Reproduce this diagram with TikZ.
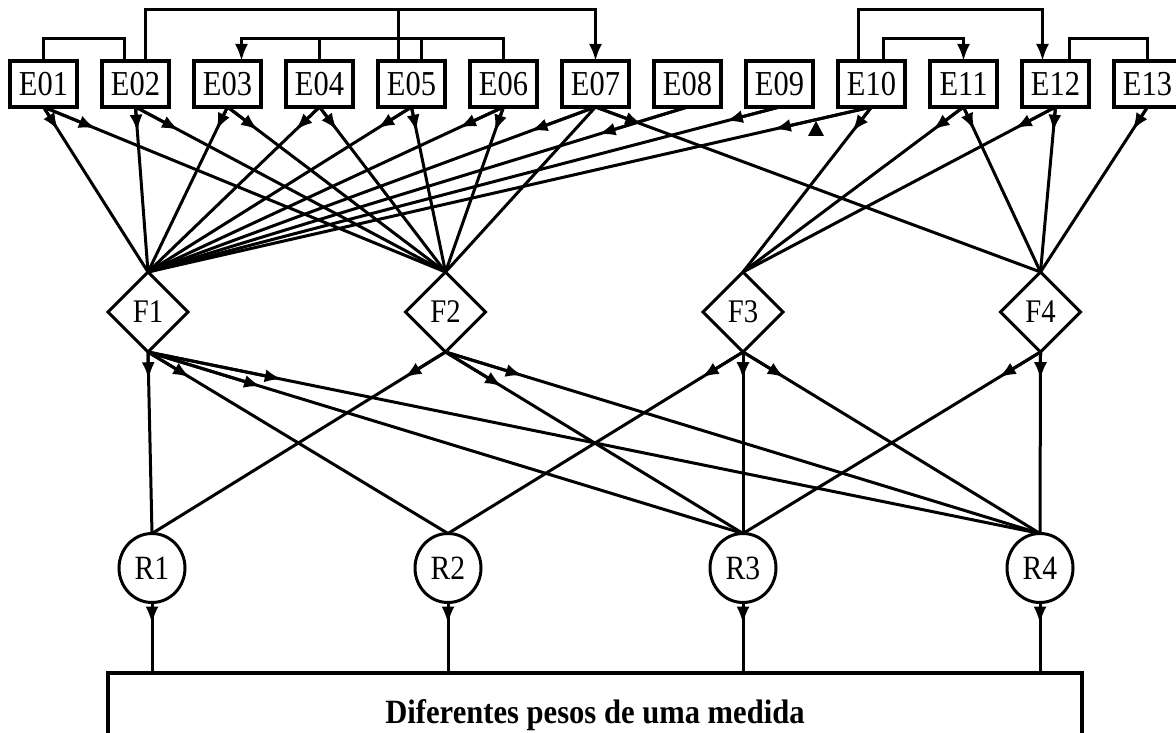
\documentclass[tikz,border=0pt]{standalone}
\usepackage{fontspec}
\setmainfont{Liberation Serif}
\newfontfamily\labfont[FakeStretch=0.87]{Liberation Serif}
\newfontfamily\bottomfont[FakeStretch=0.9]{Liberation Serif}
\usetikzlibrary{shapes.geometric,arrows.meta,calc}
\begin{document}
\begin{tikzpicture}[x=1pt,y=-1pt,
  ln/.style={line width=3pt},
  tip/.style={ln,-{Latex[length=17pt,width=13pt]}},
  ebox/.style={draw,line width=3.2pt,minimum width=67pt,minimum height=46pt,inner sep=0pt,outer sep=0pt,font=\labfont\fontsize{35pt}{35pt}\selectfont},
  fdia/.style={draw,diamond,aspect=1,line width=3pt,minimum width=80pt,minimum height=80pt,inner sep=0pt,outer sep=0pt,font=\labfont\fontsize{33pt}{33pt}\selectfont},
  rcirc/.style={draw,ellipse,line width=3pt,minimum width=66pt,minimum height=69pt,inner sep=0pt,outer sep=0pt,font=\labfont\fontsize{34pt}{34pt}\selectfont},
  bigbox/.style={minimum width=974pt,minimum height=60pt,inner sep=0pt,outer sep=0pt},
  bigtext/.style={inner sep=0pt,font=\bottomfont\bfseries\fontsize{34pt}{34pt}\selectfont}
]
\useasboundingbox (0,0) rectangle (1176,733);

% E boxes
\foreach \i/\n in {1/E01,2/E02,3/E03,4/E04,5/E05,6/E06,7/E07,8/E08,9/E09,10/E10,11/E11,12/E12,13/E13}{
  \node[ebox] (\n) at ({43.5+92*(\i-1)},84) {\n};
}
% F diamonds
\foreach \i in {1,2,3,4}{
  \node[fdia] (F\i) at ({148+297.5*(\i-1)},312) {F\i};
}
% R circles
\node[rcirc] (R1) at (152,568) {R1};
\node[rcirc] (R2) at (448,568) {R2};
\node[rcirc] (R3) at (743,568) {R3};
\node[rcirc] (R4) at (1040,568) {R4};
% bottom box
\node[bigbox] (B) at (595,703) {};
\node[bigtext] (BT) at (595,715) {Diferentes pesos de uma medida};
\draw[line width=3.2pt] (B.south west) -- (B.north west) -- (B.north east) -- (B.south east);

% bus levels
\coordinate (busA) at (0,10);
\coordinate (busB) at (0,39);

% top connectors
\draw[ln] (E01.north) -- (E01.north |- busB) -| ([xshift=-11pt]E02.north);
\draw[tip] ([xshift=10pt]E02.north) -- ([xshift=10pt]E02.north |- busA) -| (E07.north);
\draw[ln] ([xshift=-13.5pt]E05.north) -- ([xshift=-13.5pt]E05.north |- busA);
\draw[tip] (E06.north) -- (E06.north |- busB) -| ([xshift=14pt]E03.north);
\draw[ln] (E04.north) -- (E04.north |- busB);
\draw[ln] ([xshift=9.5pt]E05.north) -- ([xshift=9.5pt]E05.north |- busB);
\draw[tip] ([xshift=-13pt]E10.north) -- ([xshift=-13pt]E10.north |- busA) -| ([xshift=-13pt]E12.north);
\draw[tip] ([xshift=12pt]E10.north) -- ([xshift=12pt]E10.north |- busB) -| (E11.north);
\draw[ln] ([xshift=14pt]E12.north) -- ([xshift=14pt]E12.north |- busB) -| (E13.north);

% E -> F
\foreach \a/\b/\t in {E01/F1/0.14, E01/F2/0.13, E02/F1/0.15, E02/F2/0.14,
  E03/F1/0.14, E03/F2/0.14, E04/F1/0.14, E04/F2/0.14, E05/F1/0.13, E05/F2/0.15,
  E06/F1/0.125, E06/F2/0.15, E07/F1/0.145, E07/F4/0.105, E08/F1/0.165, E09/F1/0.085,
  E10/F1/0.135, E10/F3/0.15, E11/F3/0.14, E11/F4/0.14, E12/F3/0.13, E12/F4/0.15, E13/F4/0.14}{
  \draw[ln] (\a.south) -- (\b.north);
  \draw[tip] (\a.south) -- ($(\a.south)!\t!(\b.north)$);
}
\draw[ln] (E07.south) -- (F2.north);

% stray arrowhead mark
\fill (808,136) -- (824,136) -- (816,121) -- cycle;

% F -> R
\foreach \a/\b/\t in {F1/R1/0.15, F1/R2/0.14, F1/R3/0.19, F1/R4/0.15,
  F2/R1/0.14, F2/R3/0.19, F2/R4/0.13,
  F3/R2/0.14, F3/R3/0.15, F3/R4/0.14,
  F4/R3/0.14, F4/R4/0.15}{
  \draw[ln] (\a.south) -- (\b.north);
  \draw[tip] (\a.south) -- ($(\a.south)!\t!(\b.north)$);
}

% R -> box
\foreach \r in {R1,R2,R3,R4}{
  \draw[ln] (\r.south) -- (\r.south |- B.north);
  \draw[tip] (\r.south) -- ($(\r.south)!0.3!(\r.south |- B.north)$);
}
\end{tikzpicture}
\end{document}
